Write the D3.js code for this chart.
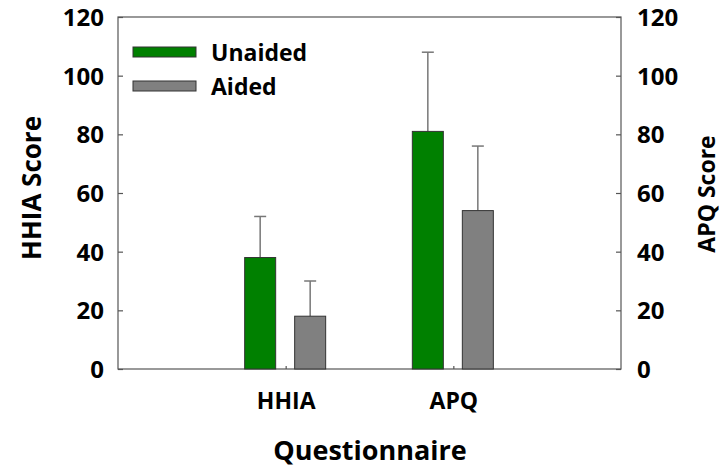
<!DOCTYPE html>
<html>
<head>
<meta charset="utf-8">
<script src="https://cdn.jsdelivr.net/npm/d3@7"></script>
<style>
  body { margin: 0; background: #fff; }
  text { font-family: "Open Sans", Lato, sans-serif; font-weight: 700; fill: #000; }
</style>
</head>
<body>
<div id="chart"></div>
<script>
const categories = ["HHIA", "APQ"];
const seriesNames = ["Unaided", "Aided"];
const unaided = [38, 81];
const aided = [18, 54];
const unaidedErr = [14, 27];
const aidedErr = [12, 22];
const yTicks = [0, 20, 40, 60, 80, 100, 120];
const colors = ["#008000", "#808080"];

const WIDTH = 723, HEIGHT = 467;
const LEFT = 118, RIGHT = 621, TOP = 17, BOTTOM = 369;

const svg = d3.select("#chart").append("svg")
  .attr("width", WIDTH).attr("height", HEIGHT);

const x = d3.scaleLinear().domain([0, categories.length + 1]).range([LEFT, RIGHT]);
const y = d3.scaleLinear().domain([0, 120]).range([BOTTOM, TOP]);

const barW = 31;
const offsets = [-41, 9];

// frame
svg.append("rect")
  .attr("x", LEFT).attr("y", TOP)
  .attr("width", RIGHT - LEFT).attr("height", BOTTOM - TOP)
  .attr("fill", "none").attr("stroke", "#555").attr("stroke-width", 1.2);

// left axis
const yLeft = svg.append("g")
  .attr("transform", `translate(${LEFT},0)`)
  .call(d3.axisLeft(y).tickValues(yTicks).tickSize(-5).tickPadding(14));
// right axis
const yRight = svg.append("g")
  .attr("transform", `translate(${RIGHT},0)`)
  .call(d3.axisRight(y).tickValues(yTicks).tickSize(-5).tickPadding(16));

[yLeft, yRight].forEach(g => {
  g.select(".domain").remove();
  g.selectAll(".tick line").attr("stroke", "#555").attr("stroke-width", 1.2);
  g.selectAll(".tick text").attr("font-size", 24).attr("fill", "#000").attr("dy", "0.36em");
});

// bottom axis
const xAxis = svg.append("g")
  .attr("transform", `translate(0,${BOTTOM})`)
  .call(d3.axisBottom(x).tickValues(categories.map((c, i) => i + 1))
    .tickSize(-3).tickPadding(24).tickFormat((d, i) => categories[i]));
xAxis.select(".domain").remove();
xAxis.selectAll(".tick line").attr("stroke", "#555").attr("stroke-width", 1.2);
xAxis.selectAll(".tick text").attr("font-size", 23).attr("fill", "#000");

const series = [unaided, aided];
const errs = [unaidedErr, aidedErr];

series.forEach((vals, s) => {
  const g = svg.append("g");
  // error bars (up only)
  g.selectAll("line.err").data(vals).join("line")
    .attr("x1", (d, i) => x(i + 1) + offsets[s] + barW / 2)
    .attr("x2", (d, i) => x(i + 1) + offsets[s] + barW / 2)
    .attr("y1", d => y(d))
    .attr("y2", (d, i) => y(d + errs[s][i]))
    .attr("stroke", "#777").attr("stroke-width", 1.5);
  g.selectAll("line.cap").data(vals).join("line")
    .attr("x1", (d, i) => x(i + 1) + offsets[s] + barW / 2 - 6)
    .attr("x2", (d, i) => x(i + 1) + offsets[s] + barW / 2 + 6)
    .attr("y1", (d, i) => y(d + errs[s][i]))
    .attr("y2", (d, i) => y(d + errs[s][i]))
    .attr("stroke", "#777").attr("stroke-width", 1.5);
  g.selectAll("rect").data(vals).join("rect")
    .attr("x", (d, i) => x(i + 1) + offsets[s])
    .attr("y", d => y(d))
    .attr("width", barW)
    .attr("height", d => y(0) - y(d))
    .attr("fill", colors[s])
    .attr("stroke", "#333").attr("stroke-width", 1);
});

// legend
const legend = svg.append("g");
seriesNames.forEach((name, i) => {
  legend.append("rect")
    .attr("x", 133).attr("y", 47 + i * 34)
    .attr("width", 63).attr("height", 10)
    .attr("fill", colors[i]).attr("stroke", "#333").attr("stroke-width", 1);
  legend.append("text")
    .attr("x", 211).attr("y", 61 + i * 34)
    .attr("font-size", 23)
    .text(name);
});

// axis titles
svg.append("text")
  .attr("transform", `translate(41,188) rotate(-90)`)
  .attr("text-anchor", "middle")
  .attr("font-size", 26)
  .text("HHIA Score");
svg.append("text")
  .attr("transform", `translate(715,194) rotate(-90)`)
  .attr("text-anchor", "middle")
  .attr("font-size", 23)
  .text("APQ Score");
svg.append("text")
  .attr("x", 370).attr("y", 460)
  .attr("text-anchor", "middle")
  .attr("font-size", 27)
  .text("Questionnaire");
</script>
</body>
</html>
